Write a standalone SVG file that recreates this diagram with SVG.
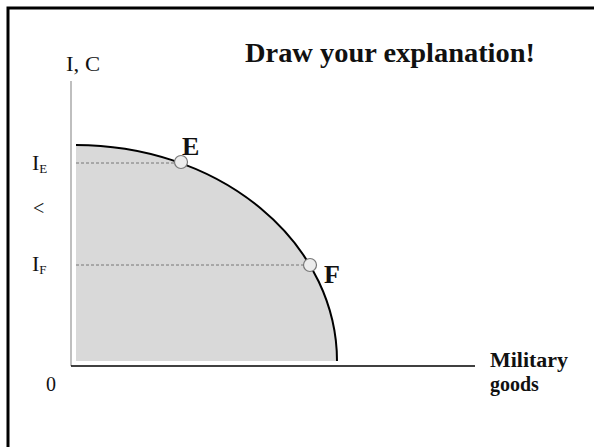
<svg xmlns="http://www.w3.org/2000/svg" width="594" height="447" viewBox="0 0 594 447">
<style>
text{font-family:"Liberation Serif","Times New Roman",serif;fill:#111}
.b{font-weight:bold}
.dash{stroke:#777;stroke-width:1;stroke-dasharray:3,2;fill:none}
.pt{fill:#ececec;stroke:#777;stroke-width:1.2}
</style>
<rect width="594" height="447" fill="#fff"/>
<path d="M8 447 V8 H594" fill="none" stroke="#000" stroke-width="3"/>
<g id="title"><text class="b" x="245" y="62" font-size="27" textLength="290" lengthAdjust="spacingAndGlyphs">Draw your explanation!</text></g>
<g id="region">
<path d="M76 361 V145 A261 216 0 0 1 337 361 Z" fill="#d9d9d9"/>
</g>
<g id="connectors">
<line x1="71" y1="81" x2="71" y2="366" stroke="#aaa" stroke-width="1.5"/>
<line x1="71" y1="366" x2="475" y2="366" stroke="#000" stroke-width="1.5"/>
<path d="M76 145 A261 216 0 0 1 337 361" fill="none" stroke="#000" stroke-width="2"/>
<line class="dash" x1="76" y1="163" x2="175" y2="163"/>
<line class="dash" x1="76" y1="265" x2="304" y2="265"/>
</g>
<g id="pointE"><circle class="pt" cx="181" cy="162" r="6.5"/><text class="b" x="182" y="155" font-size="26">E</text></g>
<g id="pointF"><circle class="pt" cx="310" cy="265" r="6.5"/><text class="b" x="324" y="283" font-size="26">F</text></g>
<g id="labels">
<text x="66" y="71" font-size="20" textLength="34" lengthAdjust="spacingAndGlyphs">I, C</text>
<text x="32" y="170" font-size="22">I<tspan font-size="13" dy="3">E</tspan></text>
<text x="33" y="215" font-size="20">&lt;</text>
<text x="32" y="271" font-size="22">I<tspan font-size="13" dy="3">F</tspan></text>
<text x="46" y="391" font-size="20">0</text>
<text class="b" x="490" y="367" font-size="20" textLength="78" lengthAdjust="spacingAndGlyphs">Military</text>
<text class="b" x="490" y="391" font-size="20">goods</text>
</g>
</svg>
